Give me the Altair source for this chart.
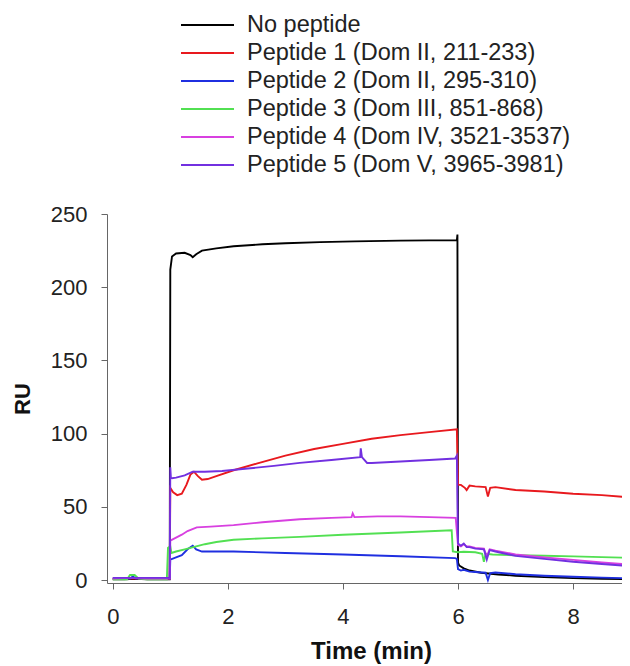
import altair as alt
import pandas as pd

series_names = [
    "No peptide",
    "Peptide 1 (Dom II, 211-233)",
    "Peptide 2 (Dom II, 295-310)",
    "Peptide 3 (Dom III, 851-868)",
    "Peptide 4 (Dom IV, 3521-3537)",
    "Peptide 5 (Dom V, 3965-3981)",
]
series_colors = ["#000000", "#e8191e", "#1f2fe0", "#52e052", "#d840e0", "#7230e0"]

t_none = [0, 0.2, 0.4, 0.6, 0.8, 0.99, 1.0, 1.03, 1.1, 1.25, 1.35, 1.39, 1.45, 1.55, 1.8, 2.1, 2.6, 3.0, 3.6, 4.2, 5.0, 5.5, 5.98, 5.99, 6.0, 6.02, 6.1, 6.2, 6.4, 6.7, 7.0, 7.5, 8.0, 8.5, 9.0]
ru_none = [0.5, 0.5, 0.8, 0.5, 0.5, 0.5, 212, 221, 223, 223.5, 222, 220.5, 222.5, 225, 226.5, 228, 229.3, 230, 230.8, 231.3, 231.8, 232, 232, 236, 12, 10, 8, 6.5, 5, 3.8, 3, 2, 1.3, 0.9, 0.6]

t_p1 = [0, 0.3, 0.6, 0.99, 1.0, 1.05, 1.12, 1.2, 1.28, 1.35, 1.41, 1.48, 1.55, 1.65, 1.8, 2.1, 2.5, 3.0, 3.5, 4.0, 4.5, 5.0, 5.5, 5.98, 6.0, 6.05, 6.12, 6.15, 6.2, 6.3, 6.48, 6.52, 6.56, 6.65, 7.0, 7.5, 8.0, 8.5, 9.0]
ru_p1 = [1, 1, 1, 1, 63, 60, 58, 59, 65, 72, 74, 71, 68.5, 69, 71, 75, 79.5, 85, 89.5, 93, 96.5, 99, 101, 103, 65, 65, 63, 61.5, 64.5, 64, 63.5, 57, 63, 63.5, 61.5, 60.5, 59, 58, 56.5]

t_p2 = [0, 0.3, 0.35, 0.4, 0.6, 0.99, 1.0, 1.1, 1.2, 1.3, 1.39, 1.45, 1.55, 1.8, 2.1, 3.0, 4.0, 5.0, 5.95, 5.98, 6.0, 6.05, 6.1, 6.2, 6.3, 6.48, 6.52, 6.56, 6.65, 7.0, 7.5, 8.0, 8.5, 9.0]
ru_p2 = [1, 1, 2.5, 1, 1, 1, 14, 15.5, 17, 21, 23.5, 21, 19.5, 19.5, 19.5, 18.5, 17.5, 16.3, 15, 14.5, 7.5, 6.5, 7, 5.8, 5.5, 5, 0, 4.8, 5.2, 4, 3, 2.3, 1.7, 1.2]

t_p3 = [0, 0.25, 0.3, 0.38, 0.45, 0.6, 0.94, 0.96, 1.0, 1.02, 1.1, 1.25, 1.4, 1.6, 1.8, 2.1, 2.6, 3.25, 4.0, 5.0, 5.89, 5.91, 6.0, 6.1, 6.3, 6.42, 6.45, 6.48, 6.6, 7.0, 7.5, 8.0, 8.5, 9.0]
ru_p3 = [0.5, 0.5, 3.5, 3.5, 1, 0.5, 0.5, 22, 23, 18.5, 19.5, 21, 22.5, 24.5, 26, 27.5, 28.5, 29.5, 31, 32.5, 34, 19.5, 19, 19.3, 19, 18, 12.5, 18, 17.5, 17, 16.6, 16.2, 15.7, 15.2]

t_p4 = [0, 0.3, 0.6, 0.99, 1.0, 1.1, 1.2, 1.3, 1.46, 1.7, 2.1, 2.6, 3.25, 3.8, 4.15, 4.17, 4.2, 4.6, 5.0, 5.5, 5.96, 6.0, 6.05, 6.1, 6.15, 6.2, 6.3, 6.45, 6.5, 6.55, 6.65, 7.0, 7.5, 8.0, 8.5, 9.0]
ru_p4 = [1, 1.5, 1, 1, 27, 29, 31, 33.5, 36, 36.5, 37.5, 39.5, 41.5, 42.5, 43, 45.5, 43, 43.5, 43.5, 43, 42.5, 24, 23, 24.5, 23, 23, 22, 21.5, 16, 21, 20, 17.5, 15.5, 13.8, 12, 10.5]

t_p5 = [0, 0.3, 0.6, 0.99, 1.0, 1.01, 1.03, 1.1, 1.25, 1.39, 1.6, 1.9, 2.3, 2.8, 3.25, 3.8, 4.3, 4.31, 4.33, 4.42, 4.5, 5.0, 5.5, 5.95, 5.98, 6.0, 6.05, 6.1, 6.15, 6.2, 6.3, 6.45, 6.5, 6.55, 6.65, 7.0, 7.5, 8.0, 8.5, 9.0]
ru_p5 = [1.5, 1.5, 1.5, 1.5, 77, 70, 69.5, 70, 71.5, 74, 74, 74.5, 76, 78, 80, 82, 84, 90, 84, 80, 80, 81, 82, 83, 85, 25, 23.5, 25, 22.5, 22.5, 21.5, 21, 14, 20.5, 19.5, 16.5, 14.5, 12.5, 11, 9.5]

x_ticks = [0, 2, 4, 6, 8]
y_ticks = [0, 50, 100, 150, 200, 250]

all_t = [t_none, t_p1, t_p2, t_p3, t_p4, t_p5]
all_ru = [ru_none, ru_p1, ru_p2, ru_p3, ru_p4, ru_p5]

rows = []
for k, (name, ts, rs) in enumerate(zip(series_names, all_t, all_ru)):
    for i, (tv, rv) in enumerate(zip(ts, rs)):
        rows.append({"series": name, "k": k, "i": i, "t": tv, "ru": rv})
df = pd.DataFrame(rows)

FONT = "Liberation Sans"

chart = alt.Chart(df).mark_line(strokeWidth=1.9, clip=True).encode(
    x=alt.X("t:Q",
            scale=alt.Scale(domain=[-0.1, 8.85], nice=False, zero=False),
            axis=alt.Axis(title="Time (min)", values=x_ticks, grid=False,
                          labelFontSize=22, titleFontSize=24, titleFontWeight="bold",
                          labelPadding=17, titlePadding=12, titleX=264, tickSize=6,
                          domainColor="#666666", tickColor="#666666",
                          labelColor="#222222", titleColor="#111111",
                          labelFont=FONT, titleFont=FONT)),
    y=alt.Y("ru:Q",
            scale=alt.Scale(domain=[-2, 250], nice=False, zero=False),
            axis=alt.Axis(title="RU", values=y_ticks, grid=False,
                          labelFontSize=22, titleFontSize=22, titleFontWeight="bold",
                          labelPadding=14, titlePadding=16, tickSize=6,
                          domainColor="#666666", tickColor="#666666",
                          labelColor="#222222", titleColor="#111111",
                          labelFont=FONT, titleFont=FONT)),
    color=alt.Color("series:N",
                    scale=alt.Scale(domain=series_names, range=series_colors),
                    sort=series_names,
                    legend=alt.Legend(title=None, orient="none", legendX=73, legendY=-199,
                                      symbolType="stroke", symbolSize=2809, symbolStrokeWidth=2,
                                      symbolOffset=0, clipHeight=20, rowPadding=4,
                                      labelFontSize=23.5, labelFont=FONT, labelColor="#222222",
                                      labelOffset=12, labelLimit=500, padding=0)),
    order=alt.Order("i:Q"),
).properties(
    width=515,
    height=369,
    autosize=alt.AutoSizeParams(type="none"),
    padding={"left": 99, "top": 206, "right": 0, "bottom": 82},
).configure_view(stroke=None)

chart.save("out.html", embed_options={"renderer": "svg", "actions": False})
